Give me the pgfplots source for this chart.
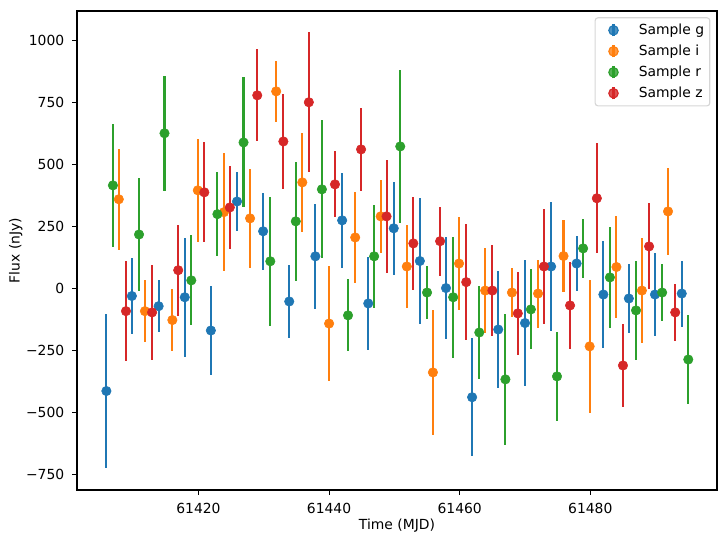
\documentclass[border=0pt]{standalone}
\usepackage{pgfplots}
\pgfplotsset{compat=1.18}
\usepackage{pgfplotstable}
\usepackage{fontspec}
\setmainfont{DejaVu Sans}

\definecolor{cg}{HTML}{1F77B4}
\definecolor{ci}{HTML}{FF7F0E}
\definecolor{cr}{HTML}{2CA02C}
\definecolor{cz}{HTML}{D62728}

% Light curves: time (MJD), flux (nJy), flux error (nJy)
\pgfplotstableread{
x y e
61405.9 -412 310
61409.8 -29 153
61413.9 -70 105
61417.9 -34 239
61421.9 -168 181
61425.9 352 120
61429.9 232 155
61433.9 -51 149
61437.9 131 212
61442.0 276 192
61446.0 -59 188
61449.9 244 187
61453.9 112 253
61457.9 3 205
61461.9 -437 237
61465.9 -164 235
61470.0 -138 253
61474.0 90 260
61477.9 102 110
61482.0 -23 215
61485.9 -39 139
61489.9 -23 169
61494.0 -19 133
}\tg

\pgfplotstableread{
x y e
61407.8 361 203
61411.8 -90 126
61416.0 -126 124
61419.9 397 207
61423.9 309 237
61427.9 284 199
61431.9 796 124
61435.9 429 201
61440.0 -140 233
61444.0 207 184
61447.9 292 147
61451.9 90 167
61455.9 -337 253
61459.9 102 186
61463.9 -7 171
61468.0 -15 100
61472.0 -19 137
61475.9 132 145
61479.9 -232 268
61484.0 88 205
61487.9 -7 213
61491.9 312 175
}\ti

\pgfplotstableread{
x y e
61406.9 417 247
61410.9 219 229
61414.8 627 231
61418.9 34 181
61422.9 301 170
61426.9 590 262
61431.0 111 261
61434.9 272 241
61438.9 401 278
61442.9 -107 145
61446.9 131 207
61450.9 574 309
61455.0 -15 108
61459.0 -34 243
61463.0 -176 186
61467.0 -365 264
61470.9 -83 161
61474.9 -353 179
61478.9 163 118
61483.0 46 205
61487.0 -87 200
61491.0 -15 114
61495.0 -285 181
}\tr

\pgfplotstableread{
x y e
61408.9 -90 201
61412.9 -95 192
61416.9 75 183
61420.9 389 201
61424.8 328 167
61429.0 780 185
61433.0 594 192
61436.9 752 282
61440.9 421 133
61444.9 562 167
61448.8 292 227
61452.9 183 186
61457.0 192 139
61461.0 27 235
61465.0 -7 182
61468.9 -99 168
61472.9 90 231
61476.9 -67 175
61481.0 365 221
61485.0 -309 169
61489.0 171 173
61493.0 -95 114
}\tz

\begin{document}
\begin{tikzpicture}
\begin{axis}[
  scale only axis,
  width=460.8pt, height=344.9pt,
  xmin=61401.4, xmax=61499.4,
  ymin=-811, ymax=1120,
  scaled x ticks=false, scaled y ticks=false,
  axis line style={line width=0.8pt},
  tick style={line width=0.8pt, black},
  tick align=outside,
  major tick length=3.5pt,
  xtick pos=bottom, ytick pos=left,
  xtick={61420,61440,61460,61480},
  xticklabels={61420,61440,61460,61480},
  ytick={-750,-500,-250,0,250,500,750,1000},
  yticklabels={−750,−500,−250,0,250,500,750,1000},
  tick label style={font=\fontsize{10}{12}\selectfont},
  xticklabel style={anchor=north, inner sep=0pt, yshift=-6pt},
  yticklabel style={anchor=east, inner sep=0pt, xshift=-5.5pt},
  label style={font=\fontsize{10}{12}\selectfont},
  every axis x label/.style={at={(axis description cs:0.5,0)}, anchor=base, yshift=-28.1pt},
  every axis y label/.style={at={([xshift=-41.3pt]axis description cs:0,0.5)}, rotate=90, anchor=base},
  xlabel={Time (MJD)},
  ylabel={Flux (nJy)},
  legend cell align=left,
  legend style={
    at={(rel axis cs:1,1)}, anchor=north east,
    xshift=-4.8pt, yshift=-4.5pt,
    draw=black!16, line width=0.8pt, rounded corners=2pt,
    fill=white, fill opacity=0.8, text opacity=1,
    inner xsep=4.1pt, inner ysep=1.5pt,
    nodes={inner sep=0pt, anchor=west, draw=none, rounded corners=0pt},
    row sep=0pt,
    font=\fontsize{10}{12}\selectfont,
  },
  legend image code/.code={
    \path[draw=none, fill=none] (0pt,-7.55pt) rectangle (27.3pt,7.55pt);
    \draw[line width=1.5pt, rounded corners=0pt] (9.1pt,-4.4pt) -- (9.1pt,4.4pt);
    \fill (9.1pt,0pt) circle (3.4pt);
  },
]
\coordinate (bl) at (rel axis cs:0,0);
\addplot[cg, only marks, mark=*, mark size=3.4pt, mark options={draw=none},
  error bars/.cd, y dir=both, y explicit, error mark=none,
  error bar style={line width=1.5pt, cg}]
  table[x=x, y=y, y error=e] {\tg};
\addlegendentry{Sample g}
\addplot[ci, only marks, mark=*, mark size=3.4pt, mark options={draw=none},
  error bars/.cd, y dir=both, y explicit, error mark=none,
  error bar style={line width=1.5pt, ci}]
  table[x=x, y=y, y error=e] {\ti};
\addlegendentry{Sample i}
\addplot[cr, only marks, mark=*, mark size=3.4pt, mark options={draw=none},
  error bars/.cd, y dir=both, y explicit, error mark=none,
  error bar style={line width=1.5pt, cr}]
  table[x=x, y=y, y error=e] {\tr};
\addlegendentry{Sample r}
\addplot[cz, only marks, mark=*, mark size=3.4pt, mark options={draw=none},
  error bars/.cd, y dir=both, y explicit, error mark=none,
  error bar style={line width=1.5pt, cz}]
  table[x=x, y=y, y error=e] {\tz};
\addlegendentry{Sample z}
\end{axis}
\pgfresetboundingbox
\path (bl) ++(-55.44pt,-38.16pt) rectangle ++(523.44pt,390.96pt);
\end{tikzpicture}
\end{document}
